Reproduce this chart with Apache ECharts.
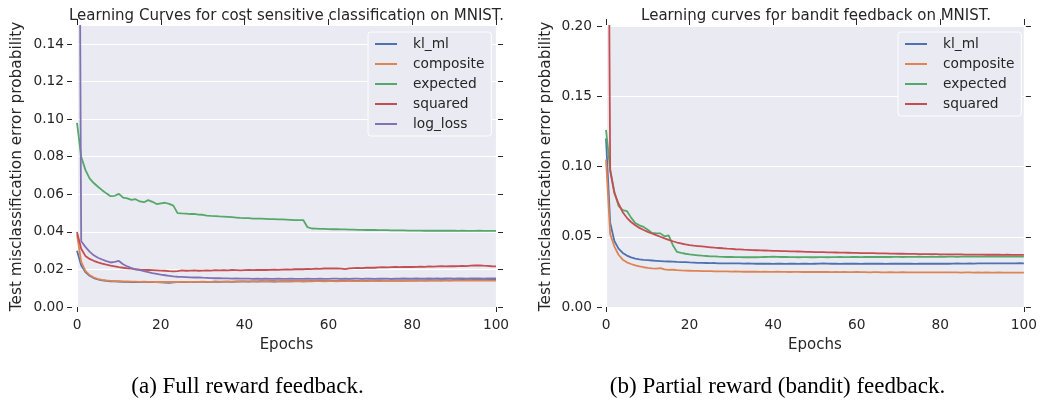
<!DOCTYPE html>
<html><head><meta charset="utf-8">
<script src="https://cdn.jsdelivr.net/npm/echarts@6/dist/echarts.min.js"></script>
<style>html,body{margin:0;padding:0;background:#fff}#c{width:1040px;height:402px}</style>
</head><body><div id="c"></div>
<script>
const epochs = [0,1,2,3,4,5,6,7,8,9,10,11,12,13,14,15,16,17,18,19,20,21,22,23,24,25,26,27,28,29,30,31,32,33,34,35,36,37,38,39,40,41,42,43,44,45,46,47,48,49,50,51,52,53,54,55,56,57,58,59,60,61,62,63,64,65,66,67,68,69,70,71,72,73,74,75,76,77,78,79,80,81,82,83,84,85,86,87,88,89,90,91,92,93,94,95,96,97,98,99,100];

// (a) Full reward feedback
const fullKlMl = [0.0300,0.0222,0.0186,0.0166,0.0154,0.0147,0.0142,0.0139,0.0137,0.0136,
0.0135,0.0134,0.0134,0.0133,0.0134,0.0133,0.0132,0.0133,0.0132,0.0132,
0.0131,0.0130,0.0128,0.0131,0.0132,0.0133,0.0132,0.0133,0.0133,0.0134,
0.0134,0.0133,0.0134,0.0135,0.0134,0.0135,0.0135,0.0134,0.0135,0.0136,
0.0136,0.0135,0.0136,0.0136,0.0137,0.0136,0.0137,0.0137,0.0136,0.0137,
0.0138,0.0137,0.0138,0.0138,0.0137,0.0138,0.0139,0.0138,0.0139,0.0139,
0.0138,0.0139,0.0139,0.0140,0.0139,0.0140,0.0140,0.0139,0.0140,0.0140,
0.0141,0.0140,0.0141,0.0141,0.0140,0.0141,0.0141,0.0142,0.0141,0.0142,
0.0142,0.0141,0.0142,0.0142,0.0143,0.0142,0.0142,0.0143,0.0143,0.0142,
0.0143,0.0143,0.0144,0.0143,0.0143,0.0144,0.0144,0.0143,0.0144,0.0144,0.0144];
const fullComposite = [0.0385,0.0240,0.0192,0.0170,0.0157,0.0149,0.0144,0.0141,0.0139,0.0138,
0.0137,0.0136,0.0136,0.0135,0.0135,0.0134,0.0135,0.0134,0.0134,0.0133,
0.0134,0.0133,0.0133,0.0134,0.0133,0.0134,0.0134,0.0133,0.0134,0.0134,
0.0135,0.0134,0.0134,0.0135,0.0135,0.0134,0.0135,0.0135,0.0136,0.0135,
0.0135,0.0136,0.0136,0.0135,0.0136,0.0136,0.0137,0.0134,0.0136,0.0137,
0.0137,0.0136,0.0137,0.0137,0.0138,0.0137,0.0137,0.0138,0.0138,0.0137,
0.0138,0.0138,0.0137,0.0138,0.0138,0.0139,0.0138,0.0138,0.0139,0.0138,
0.0139,0.0139,0.0138,0.0139,0.0139,0.0139,0.0140,0.0139,0.0139,0.0140,
0.0139,0.0140,0.0140,0.0139,0.0140,0.0140,0.0140,0.0139,0.0140,0.0140,
0.0141,0.0140,0.0140,0.0141,0.0140,0.0141,0.0141,0.0140,0.0141,0.0140,0.0140];
const fullExpected = [0.0980,0.0800,0.0730,0.0685,0.0660,0.0640,0.0622,0.0605,0.0590,0.0592,
0.0602,0.0582,0.0578,0.0570,0.0574,0.0562,0.0558,0.0569,0.0560,0.0548,
0.0552,0.0555,0.0549,0.0540,0.0500,0.0498,0.0497,0.0495,0.0496,0.0492,
0.0491,0.0487,0.0485,0.0484,0.0482,0.0481,0.0480,0.0478,0.0476,0.0474,
0.0473,0.0473,0.0471,0.0471,0.0470,0.0469,0.0468,0.0468,0.0467,0.0466,
0.0465,0.0464,0.0463,0.0463,0.0463,0.0425,0.0418,0.0417,0.0416,0.0416,
0.0415,0.0414,0.0414,0.0413,0.0413,0.0412,0.0412,0.0411,0.0411,0.0410,
0.0410,0.0410,0.0409,0.0409,0.0409,0.0408,0.0408,0.0408,0.0408,0.0407,
0.0407,0.0407,0.0407,0.0406,0.0407,0.0406,0.0406,0.0406,0.0406,0.0406,
0.0406,0.0405,0.0406,0.0405,0.0405,0.0405,0.0406,0.0405,0.0405,0.0405,0.0405];
const fullSquared = [0.0400,0.0310,0.0272,0.0256,0.0246,0.0238,0.0231,0.0225,0.0220,0.0216,
0.0212,0.0209,0.0206,0.0204,0.0201,0.0199,0.0198,0.0197,0.0196,0.0195,
0.0194,0.0193,0.0191,0.0190,0.0191,0.0195,0.0193,0.0194,0.0195,0.0193,
0.0194,0.0195,0.0194,0.0196,0.0195,0.0196,0.0195,0.0197,0.0196,0.0195,
0.0196,0.0197,0.0196,0.0197,0.0198,0.0197,0.0198,0.0199,0.0198,0.0199,
0.0200,0.0199,0.0201,0.0202,0.0201,0.0203,0.0202,0.0204,0.0203,0.0205,
0.0205,0.0206,0.0205,0.0204,0.0202,0.0206,0.0207,0.0208,0.0207,0.0209,
0.0210,0.0209,0.0211,0.0212,0.0211,0.0212,0.0213,0.0212,0.0213,0.0214,
0.0213,0.0214,0.0215,0.0214,0.0216,0.0215,0.0216,0.0217,0.0216,0.0218,
0.0217,0.0218,0.0219,0.0218,0.0220,0.0221,0.0222,0.0220,0.0219,0.0217,0.0216];
const fullLogLoss = [0.5000,0.0350,0.0320,0.0295,0.0275,0.0262,0.0253,0.0244,0.0237,0.0240,
0.0245,0.0228,0.0216,0.0207,0.0200,0.0196,0.0191,0.0186,0.0180,0.0176,
0.0172,0.0169,0.0166,0.0163,0.0161,0.0160,0.0159,0.0158,0.0157,0.0158,
0.0156,0.0155,0.0154,0.0153,0.0153,0.0152,0.0152,0.0151,0.0152,0.0151,
0.0151,0.0151,0.0150,0.0151,0.0150,0.0151,0.0150,0.0150,0.0151,0.0150,
0.0150,0.0151,0.0150,0.0150,0.0150,0.0151,0.0150,0.0150,0.0151,0.0150,
0.0150,0.0151,0.0151,0.0150,0.0151,0.0150,0.0151,0.0151,0.0150,0.0151,
0.0151,0.0150,0.0151,0.0151,0.0151,0.0150,0.0151,0.0151,0.0152,0.0151,
0.0151,0.0152,0.0151,0.0151,0.0152,0.0151,0.0152,0.0151,0.0152,0.0152,
0.0151,0.0152,0.0152,0.0151,0.0152,0.0152,0.0152,0.0151,0.0152,0.0152,0.0152];

// (b) Partial reward (bandit) feedback
const banditKlMl = [0.1200,0.0600,0.0470,0.0415,0.0385,0.0366,0.0353,0.0345,0.0339,0.0335,
0.0333,0.0331,0.0329,0.0327,0.0325,0.0324,0.0323,0.0321,0.0320,0.0319,
0.0317,0.0316,0.0314,0.0314,0.0313,0.0312,0.0313,0.0311,0.0311,0.0310,
0.0310,0.0311,0.0310,0.0309,0.0310,0.0309,0.0308,0.0309,0.0308,0.0308,
0.0307,0.0308,0.0308,0.0307,0.0309,0.0308,0.0307,0.0308,0.0308,0.0307,
0.0308,0.0309,0.0310,0.0309,0.0308,0.0308,0.0307,0.0308,0.0309,0.0308,
0.0308,0.0307,0.0308,0.0308,0.0309,0.0308,0.0308,0.0307,0.0308,0.0308,
0.0308,0.0309,0.0308,0.0308,0.0307,0.0308,0.0308,0.0309,0.0308,0.0308,
0.0309,0.0308,0.0308,0.0309,0.0310,0.0309,0.0309,0.0310,0.0309,0.0310,
0.0310,0.0311,0.0310,0.0310,0.0311,0.0311,0.0310,0.0311,0.0311,0.0312,0.0311];
const banditComposite = [0.1050,0.0520,0.0430,0.0372,0.0337,0.0318,0.0306,0.0297,0.0289,0.0283,
0.0278,0.0275,0.0273,0.0276,0.0268,0.0264,0.0265,0.0262,0.0260,0.0259,
0.0258,0.0257,0.0257,0.0256,0.0255,0.0255,0.0254,0.0254,0.0253,0.0253,
0.0252,0.0253,0.0252,0.0251,0.0251,0.0252,0.0251,0.0250,0.0251,0.0250,
0.0250,0.0251,0.0250,0.0250,0.0249,0.0250,0.0250,0.0249,0.0250,0.0249,
0.0249,0.0250,0.0249,0.0249,0.0248,0.0249,0.0248,0.0249,0.0248,0.0248,
0.0249,0.0248,0.0248,0.0247,0.0248,0.0248,0.0247,0.0246,0.0248,0.0247,
0.0247,0.0248,0.0247,0.0247,0.0246,0.0247,0.0247,0.0246,0.0247,0.0246,
0.0247,0.0246,0.0246,0.0247,0.0246,0.0245,0.0246,0.0246,0.0245,0.0246,
0.0245,0.0246,0.0245,0.0245,0.0246,0.0245,0.0244,0.0245,0.0245,0.0244,0.0245];
const banditExpected = [0.1260,0.0980,0.0820,0.0720,0.0690,0.0683,0.0636,0.0598,0.0581,0.0570,
0.0550,0.0527,0.0524,0.0524,0.0503,0.0510,0.0440,0.0392,0.0385,0.0379,
0.0374,0.0371,0.0368,0.0365,0.0363,0.0361,0.0360,0.0358,0.0357,0.0356,
0.0356,0.0355,0.0355,0.0354,0.0355,0.0354,0.0354,0.0355,0.0356,0.0357,
0.0358,0.0357,0.0356,0.0356,0.0355,0.0355,0.0354,0.0355,0.0355,0.0354,
0.0354,0.0355,0.0355,0.0354,0.0355,0.0355,0.0356,0.0355,0.0355,0.0356,
0.0356,0.0355,0.0356,0.0356,0.0357,0.0356,0.0356,0.0357,0.0356,0.0357,
0.0357,0.0356,0.0357,0.0357,0.0357,0.0358,0.0357,0.0357,0.0358,0.0357,
0.0358,0.0357,0.0358,0.0358,0.0357,0.0358,0.0358,0.0359,0.0358,0.0358,
0.0359,0.0358,0.0358,0.0359,0.0358,0.0359,0.0359,0.0358,0.0359,0.0359,0.0358];
const banditSquared = [0.6000,0.0970,0.0810,0.0735,0.0675,0.0635,0.0605,0.0582,0.0563,0.0548,
0.0535,0.0523,0.0511,0.0500,0.0489,0.0478,0.0468,0.0459,0.0452,0.0446,
0.0441,0.0437,0.0434,0.0431,0.0428,0.0425,0.0422,0.0420,0.0418,0.0415,
0.0413,0.0411,0.0410,0.0408,0.0407,0.0405,0.0404,0.0403,0.0402,0.0401,
0.0400,0.0399,0.0398,0.0397,0.0396,0.0396,0.0395,0.0394,0.0393,0.0392,
0.0391,0.0391,0.0390,0.0389,0.0389,0.0388,0.0387,0.0387,0.0386,0.0385,
0.0385,0.0384,0.0384,0.0383,0.0383,0.0382,0.0382,0.0381,0.0380,0.0380,
0.0379,0.0379,0.0378,0.0378,0.0378,0.0377,0.0377,0.0376,0.0376,0.0376,
0.0375,0.0375,0.0375,0.0374,0.0374,0.0374,0.0373,0.0373,0.0373,0.0373,
0.0373,0.0372,0.0372,0.0372,0.0372,0.0371,0.0372,0.0371,0.0371,0.0371,0.0371];

const xTicks = [0,20,40,60,80,100];
const xEndTicks = [0,100];
const yTicksFull = [0,0.02,0.04,0.06,0.08,0.10,0.12,0.14];
const yTicksBandit = [0,0.05,0.10,0.15,0.20];
const legendFull = ['kl_ml','composite','expected','squared','log_loss'];
const legendBandit = ['kl_ml','composite','expected','squared'];
const titles = ['Learning Curves for cost sensitive classification on MNIST.','Learning curves for bandit feedback on MNIST.'];
const captions = ['(a) Full reward feedback.','(b) Partial reward (bandit) feedback.'];
const yName = 'Test misclassification error probability';
const xName = 'Epochs';

const COLORS = {kl_ml:'#4C72B0', composite:'#DD8452', expected:'#55A868', squared:'#C44E52', log_loss:'#8172B3'};
const FONT = 'DejaVu Sans';
const TXT = '#262626';
const HIDDEN_LINE = {show:true, onZero:false, lineStyle:{color:'rgba(0,0,0,0)', width:0}};

function line(name, vals, gi){
  return {type:'line', name, xAxisIndex: gi*2, yAxisIndex: gi*2,
    data: epochs.map((e,i)=>[e, vals[i]]),
    showSymbol:false, symbol:'none', clip:true, animation:false,
    lineStyle:{width:1.8, color:COLORS[name]}, itemStyle:{color:COLORS[name]},
    emphasis:{disabled:true}};
}
function xAxes(gi){
  return [
    {gridIndex:gi, type:'value', min:0, max:100, interval:20, position:'bottom',
     axisLine:HIDDEN_LINE,
     axisTick:{show:true, length:5, customValues:xEndTicks, lineStyle:{color:TXT, width:1}},
     axisLabel:{margin:11, color:TXT, fontSize:13.75, fontFamily:FONT, customValues:xTicks},
     splitLine:{show:true, lineStyle:{color:'#fff', width:1.2}},
     name:xName, nameLocation:'middle', nameGap:31, nameMoveOverlap:false,
     nameTextStyle:{fontSize:15, color:TXT, fontFamily:FONT}},
    {gridIndex:gi, type:'value', min:0, max:100, interval:20, position:'top', offset:1,
     axisLine:HIDDEN_LINE,
     axisTick:{show:true, length:6, customValues:xTicks, lineStyle:{color:TXT, width:1}},
     axisLabel:{show:false}, splitLine:{show:false}}
  ];
}
function yAxes(gi, max, interval, ticks, off, margin, gap){
  const fmt = v => (ticks.some(t=>Math.abs(t-v)<1e-9) ? v.toFixed(2) : '');
  return [
    {gridIndex:gi, type:'value', min:0, max, interval, position:'left', offset:off,
     axisLine:HIDDEN_LINE,
     axisTick:{show:true, length:5, customValues:ticks, lineStyle:{color:TXT, width:1}},
     axisLabel:{margin, color:TXT, fontSize:13.75, fontFamily:FONT, formatter:fmt, customValues:ticks},
     splitLine:{show:true, lineStyle:{color:'#fff', width:1.2}},
     name:yName, nameLocation:'middle', nameGap:gap, nameMoveOverlap:false,
     nameTextStyle:{fontSize:15.3, color:TXT, fontFamily:FONT}},
    {gridIndex:gi, type:'value', min:0, max, interval, position:'right', offset:2,
     axisLine:HIDDEN_LINE,
     axisTick:{show:true, length:5, customValues:ticks, lineStyle:{color:TXT, width:1}},
     axisLabel:{show:false}, splitLine:{show:false}}
  ];
}
function legend(data, left, top){
  return {data, orient:'vertical', left, top, icon:'rect', itemWidth:22, itemHeight:2, itemGap:0,
    padding:[2,7,2,7], backgroundColor:'#EAEAF2', borderColor:'#FFFFFF', borderWidth:1, borderRadius:3,
    selectedMode:false,
    textStyle:{fontSize:13.75, color:TXT, fontFamily:FONT, lineHeight:20, padding:[0,0,0,11]}};
}

const chart = echarts.init(document.getElementById('c'), null, {renderer:'canvas'});
chart.setOption({
  animation:false,
  backgroundColor:'#ffffff',
  title:[
    {text:titles[0], left:286.5, textAlign:'center', top:9, padding:0,
     textStyle:{fontSize:15, fontWeight:'normal', color:TXT, fontFamily:FONT}},
    {text:titles[1], left:816, textAlign:'center', top:9, padding:0,
     textStyle:{fontSize:15, fontWeight:'normal', color:TXT, fontFamily:FONT}}
  ],
  grid:[
    {left:77, top:26, width:419, height:281, show:true, backgroundColor:'#EAEAF2', borderWidth:0},
    {left:606, top:26, width:420, height:281, show:true, backgroundColor:'#EAEAF2', borderWidth:0}
  ],
  xAxis:[...xAxes(0), ...xAxes(1)],
  yAxis:[...yAxes(0, 0.1496, 0.02, yTicksFull, 5, 8, 47), ...yAxes(1, 0.20, 0.05, yTicksBandit, 4, 10, 48.5)],
  legend:[legend(legendFull, 368, 32), legend(legendBandit, 898, 32)],
  series:[
    line('kl_ml', fullKlMl, 0), line('composite', fullComposite, 0), line('expected', fullExpected, 0),
    line('squared', fullSquared, 0), line('log_loss', fullLogLoss, 0),
    line('kl_ml', banditKlMl, 1), line('composite', banditComposite, 1), line('expected', banditExpected, 1),
    line('squared', banditSquared, 1)
  ],
  graphic:[
    {type:'text', x:247.5, y:387, style:{text:captions[0], font:'23px "Liberation Serif"', fill:'#000', textAlign:'center', textVerticalAlign:'middle'}},
    {type:'text', x:777.5, y:387, style:{text:captions[1], font:'23px "Liberation Serif"', fill:'#000', textAlign:'center', textVerticalAlign:'middle'}}
  ]
});
</script>
</body></html>
